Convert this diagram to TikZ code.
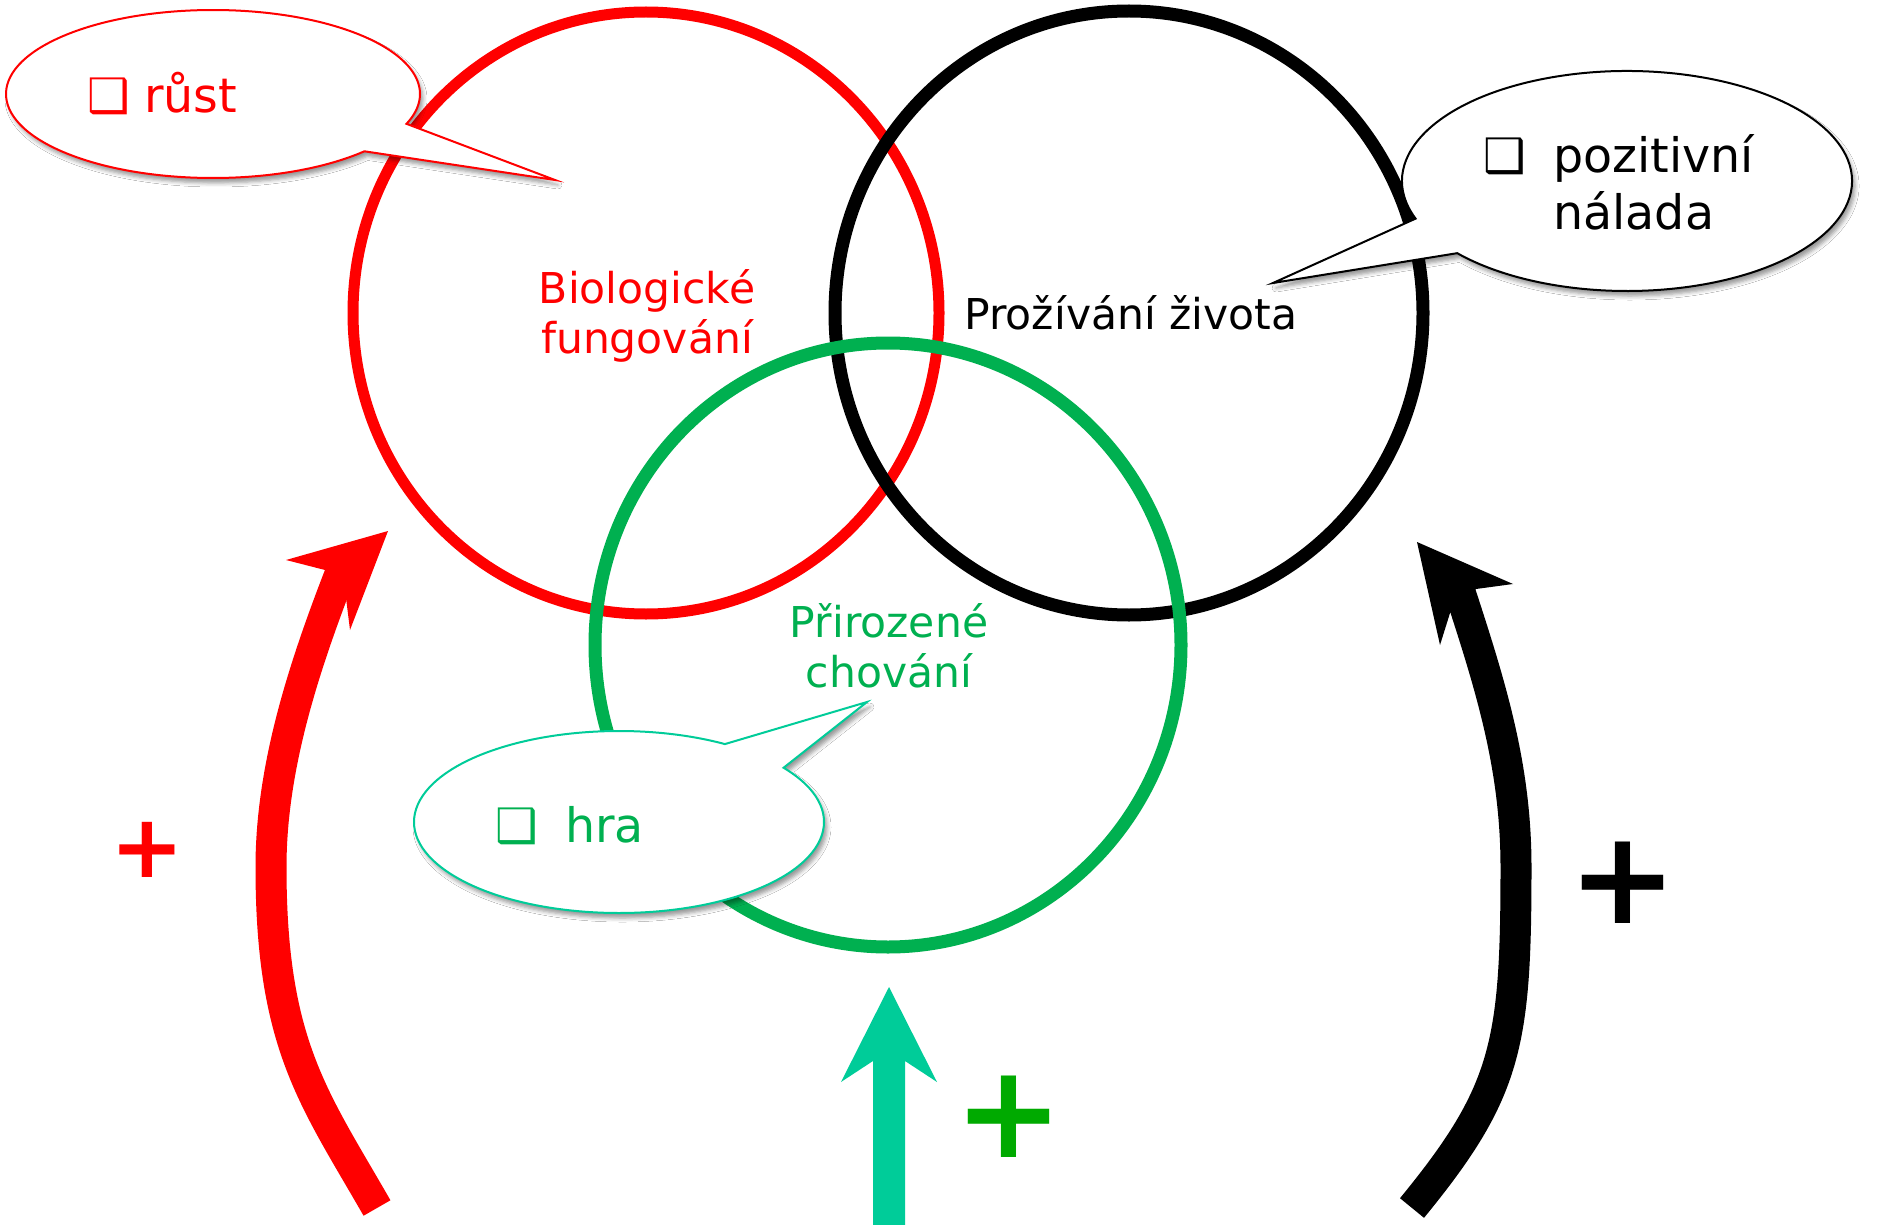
\documentclass[tikz,border=0pt]{standalone}
\usepackage{fontspec}
\setmainfont{DejaVu Sans}
\usetikzlibrary{shadows.blur}
\definecolor{cRed}{HTML}{FF0000}
\definecolor{cGreen}{HTML}{00B050}
\definecolor{cTeal}{HTML}{00CC99}
\definecolor{cPlus}{HTML}{00AA00}
\newcommand{\bxglyph}{{\bfseries ❑}}
\newcommand{\lblfont}{\fontsize{42.5}{50}\selectfont}
\newcommand{\bubfont}{\fontsize{47.5}{58}\selectfont}
\begin{document}
\begin{tikzpicture}[x=1pt,y=-1pt,
  bubble/.style={fill=white, line width=2,
    blur shadow={shadow xshift=3pt, shadow yshift=-5pt, shadow opacity=40, shadow blur radius=4pt}},
  shaft/.style={line width=31, line cap=butt},
  plussign/.style={font=\fontsize{#1}{#1}\selectfont\bfseries, inner sep=0pt}]
\fill[white] (0,0) rectangle (1883,1225);
\useasboundingbox (0,0) rectangle (1883,1225);
% circles
\draw[cRed, line width=11] (646,313) ellipse[x radius=293, y radius=301];
\draw[black, line width=13] (1129,313) ellipse[x radius=294, y radius=302];
\draw[cGreen, line width=13] (888,645) ellipse[x radius=293, y radius=302];
% labels in circles (base = last line)
\node[text=cRed, align=center, anchor=base, font=\lblfont] (tBio) at (647,353) {Biologické\\fungování};
\node[text=black, anchor=base, font=\lblfont] (tProz) at (1131,329) {Prožívání života};
\node[text=cGreen, align=center, anchor=base, font=\lblfont] (tPriro) at (889,687) {Přirozené\\chování};
% bubbles
\draw[bubble, draw=cRed] ([shift={(213,94)}]43:207 and 84) arc[start angle=43, end angle=380.8, x radius=207, y radius=84] -- (555,180) -- cycle;
\draw[bubble, draw=black] ([shift={(1627,181)}]160:225 and 110) arc[start angle=160, end angle=499, x radius=225, y radius=110] -- (1273,283) -- cycle;
\draw[bubble, draw=cTeal] ([shift={(619,822)}]323.4:205 and 91) arc[start angle=323.4, end angle=661.1, x radius=205, y radius=91] -- (867,702) -- cycle;
\node[anchor=base west, text=cRed, font=\bubfont, inner sep=0pt] (tRust) at (87,113) {\bxglyph\hspace{0.3em}růst};
\node[anchor=base west, text=black, font=\bubfont, align=left, inner sep=0pt] (tPoz) at (1483,230) {\bxglyph\hspace{0.58em}pozitivní\\\hphantom{\bxglyph\hspace{0.58em}}nálada};
\node[anchor=base west, text=cGreen, font=\bubfont, inner sep=0pt] (tHra) at (495,842) {\bxglyph\hspace{0.58em}hra};
% red curved arrow
\coordinate (rA) at (377,1208);
\coordinate (rD) at (271,867);
\coordinate (rF) at (340,574);
\draw[cRed, shaft] (rA) .. controls (314,1098) and (271,1045) .. (rD) .. controls (271,767) and (304,667) .. (rF);
\fill[cRed] (388,531) -- (286,560) -- (325,570) -- (346,598) -- (350,630) -- cycle;
% black curved arrow
\coordinate (bA) at (1412,1208);
\coordinate (bD) at (1516,867);
\coordinate (bF) at (1460,592);
\draw[black, shaft] (bA) .. controls (1507,1092) and (1516,1045) .. (bD) .. controls (1516,767) and (1491,687) .. (bF);
\fill[black] (1417,542) -- (1513,584) -- (1476,589) -- (1450,613) -- (1440,645) -- cycle;
% green straight arrow
\fill[cTeal] (889,987) -- (937,1082) -- (905,1061) -- (905,1230) -- (873,1230) -- (873,1061) -- (841,1082) -- cycle;
% plus signs
\node[plussign=88, text=cRed] (pR) at (147,850) {+};
\node[plussign=130, text=black] (pB) at (1623,883) {+};
\node[plussign=130, text=cPlus] (pG) at (1009,1117) {+};
\end{tikzpicture}
\end{document}
